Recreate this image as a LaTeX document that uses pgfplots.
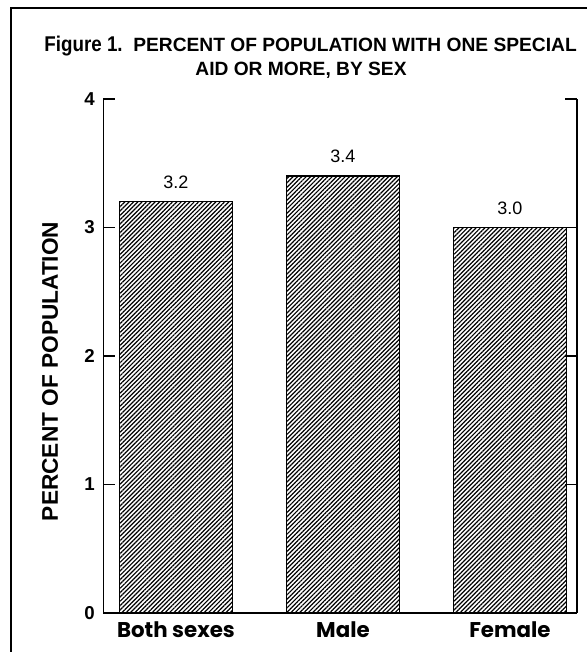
\documentclass[border=0pt]{standalone}
\usepackage{fontspec}
\setmainfont{Liberation Sans}
\newfontfamily\narrowfont{Liberation Sans}[FakeStretch=0.88]
\newfontfamily\xfont{Poppins}
\usepackage{pgfplots}
\pgfplotsset{compat=1.18}
\usetikzlibrary{patterns.meta}
\begin{document}
\begin{tikzpicture}
\useasboundingbox (0,0) rectangle (439.5pt,489pt);
% frame
\draw[line width=1.3pt] (8.25pt,-5pt) -- (8.25pt,483pt) -- (450pt,483pt);
% title
\node[anchor=base east, font=\bfseries\fontsize{14.4}{16}\selectfont, inner sep=0pt] at (432.75pt,450.6pt)
  {{\narrowfont\fontsize{16}{17}\selectfont Figure 1.}\ \ PERCENT OF POPULATION WITH ONE SPECIAL};
\node[anchor=base, font=\bfseries\fontsize{14.4}{16}\selectfont] at (225.75pt,432pt)
  {AID OR MORE, BY SEX};
\begin{axis}[
  at={(77.6pt,29.25pt)}, anchor=south west,
  scale only axis, width=355.1pt, height=385.5pt,
  xmin=-0.434, xmax=2.401, ymin=0, ymax=4,
  axis x line=bottom, axis y line=box,
  axis line style={line width=1.1pt, -},
  xtick={0,1,2},
  xticklabels={Both sexes, Male, Female},
  xtick style={draw=none},
  xticklabel style={font=\xfont\bfseries\fontsize{16}{18}\selectfont, yshift=-3pt},
  ytick={0,1,2,3,4},
  yticklabels={0,1,2,3,4},
  tick align=inside,
  major tick length=9pt,
  ytick style={line width=1pt, black},
  yticklabel style={font=\bfseries\fontsize{14}{15}\selectfont, xshift=-3pt},
  ylabel={PERCENT OF POPULATION},
  ylabel style={font=\bfseries\fontsize{17}{19}\selectfont, at={(axis description cs:0,0.47)}, anchor=center, yshift=40pt, xshift=0pt},
  /pgf/number format/assume math mode=true,
  nodes near coords,
  every node near coord/.append style={font=\fontsize{13.5}{15}\selectfont, anchor=base, yshift=10pt},
  nodes near coords={\pgfmathprintnumber[fixed, fixed zerofill, precision=1]{\pgfplotspointmeta}},
]
\addplot[ybar, bar width=84.75pt, draw=black, line width=1pt,
  pattern={Lines[angle=45, distance=2.3pt, line width=0.9pt]}]
  coordinates {(0,3.2) (1,3.4) (2,3.0)};
\end{axis}
\end{tikzpicture}
\end{document}
